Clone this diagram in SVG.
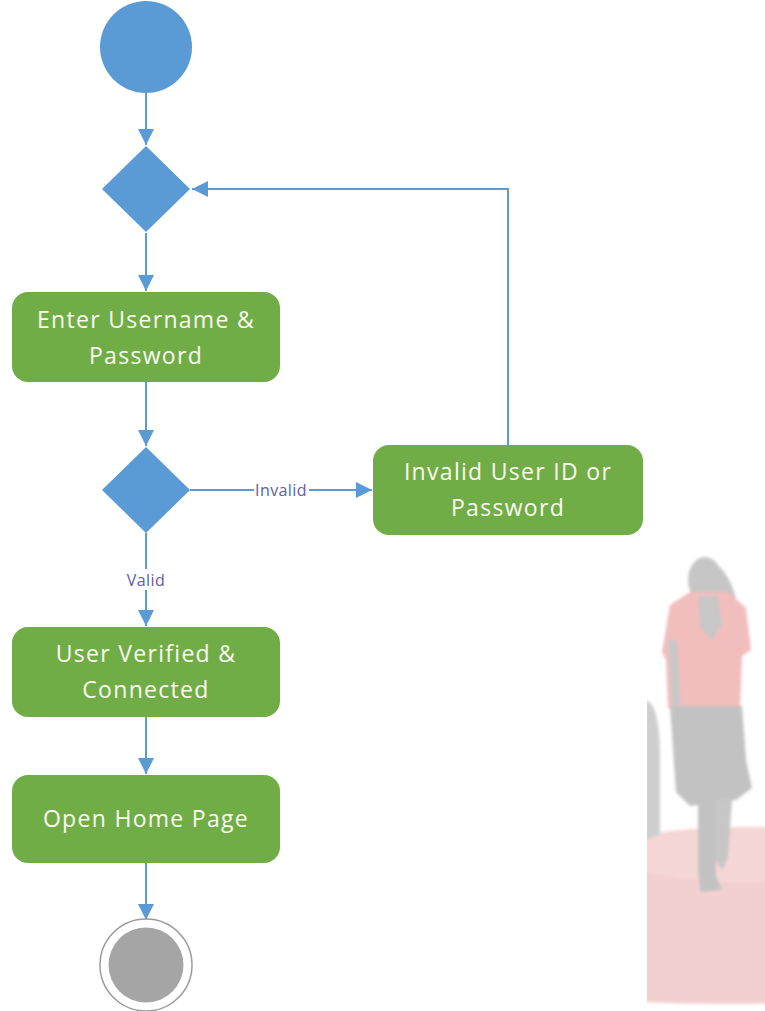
<svg xmlns="http://www.w3.org/2000/svg" width="765" height="1011" viewBox="0 0 765 1011">
  <style>
    .act { fill: #70ad47; }
    .actText { font-family: "Open Sans", Lato, "Liberation Sans", sans-serif; font-size: 23px; letter-spacing: 1.3px; fill: #fbfbf0; text-anchor: middle; }
    .dec { fill: #5b9bd5; }
    .edge { fill: none; stroke: #5b9bd5; stroke-width: 2; }
    .lbl { font-family: "Open Sans", Lato, "Liberation Sans", sans-serif; font-size: 16px; letter-spacing: 0.4px; fill: #5b5ea6; text-anchor: middle; }
  </style>
  <defs>
    <marker id="arrowV" markerWidth="18" markerHeight="16" refX="16" refY="8" orient="auto" markerUnits="userSpaceOnUse">
      <path d="M0,0 L16,8 L0,16 Z" fill="#5b9bd5"/>
    </marker>
    <clipPath id="photoClip">
      <rect x="647" y="540" width="118" height="471"/>
    </clipPath>
    <filter id="soft" x="-10%" y="-10%" width="120%" height="120%">
      <feGaussianBlur stdDeviation="1.5"/>
    </filter>
  </defs>

  <!-- faded figure standing on a red platform -->
  <g id="figure" clip-path="url(#photoClip)">
    <g filter="url(#soft)">
      <path d="M640,836 C680,828 730,826 780,828 L780,1003 C740,1005 680,1004 640,1002 Z" fill="#f3d0d0"/>
      <path d="M640,836 C680,828 730,826 780,828 L780,880 C730,885 680,880 640,870 Z" fill="#f5d6d6"/>
      <path d="M645,700 C655,702 660,720 660,760 L660,835 L645,840 Z" fill="#cfcfcf"/>
      <ellipse cx="705" cy="580" rx="17" ry="23" fill="#c6c6c6"/>
      <path d="M708,560 C728,565 742,600 740,640 L724,642 L716,600 Z" fill="#c6c6c6"/>
      <path d="M670,605 L690,592 L728,592 L746,608 L751,650 L742,656 L740,708 L668,708 L666,660 L662,652 Z" fill="#f2bdbd"/>
      <path d="M698,596 L718,596 L722,625 L712,640 L700,628 Z" fill="#c8c8c8"/>
      <path d="M668,640 L677,640 L680,705 L672,706 Z" fill="#c8c8c8"/>
      <path d="M670,706 L742,706 L746,760 L752,788 L736,800 L690,806 L676,792 Z" fill="#c2c2c2"/>
      <path d="M698,800 L716,800 L716,876 L722,890 L700,892 L698,870 Z" fill="#c2c2c2"/>
      <path d="M716,800 L732,800 L728,858 L722,870 L716,860 Z" fill="#c6c6c6"/>
    </g>
  </g>

  <!-- connectors -->
  <g id="connectors">
    <line class="edge" x1="146" y1="93" x2="146" y2="145" marker-end="url(#arrowV)"/>
    <polyline class="edge" points="508,445 508,189 192,189" marker-end="url(#arrowV)"/>
    <line class="edge" x1="146" y1="233" x2="146" y2="291" marker-end="url(#arrowV)"/>
    <line class="edge" x1="146" y1="382" x2="146" y2="446" marker-end="url(#arrowV)"/>
    <line class="edge" x1="190" y1="490" x2="372" y2="490" marker-end="url(#arrowV)"/>
    <rect x="254" y="480" width="55" height="20" fill="#ffffff"/>
    <text class="lbl" x="281" y="496">Invalid</text>
    <line class="edge" x1="146" y1="533" x2="146" y2="626" marker-end="url(#arrowV)"/>
    <rect x="122" y="569" width="48" height="21" fill="#ffffff"/>
    <text class="lbl" x="146" y="586">Valid</text>
    <line class="edge" x1="146" y1="717" x2="146" y2="774" marker-end="url(#arrowV)"/>
    <line class="edge" x1="146" y1="863" x2="146" y2="920" marker-end="url(#arrowV)"/>
  </g>

  <g id="start">
    <circle cx="146" cy="47" r="46" fill="#5b9bd5"/>
  </g>

  <g id="merge">
    <polygon class="dec" points="146,146 190,189 146,232 102,189"/>
  </g>

  <g id="enterCredentials">
    <rect class="act" x="12" y="292" width="268" height="90" rx="16"/>
    <text class="actText" x="146" y="328">Enter Username &amp;</text>
    <text class="actText" x="146" y="364">Password</text>
  </g>

  <g id="checkCredentials">
    <polygon class="dec" points="146,447 190,490 146,533 102,490"/>
  </g>

  <g id="invalidLogin">
    <rect class="act" x="373" y="445" width="270" height="90" rx="16"/>
    <text class="actText" x="508" y="480">Invalid User ID or</text>
    <text class="actText" x="508" y="516">Password</text>
  </g>

  <g id="userVerified">
    <rect class="act" x="12" y="627" width="268" height="90" rx="16"/>
    <text class="actText" x="146" y="662">User Verified &amp;</text>
    <text class="actText" x="146" y="698">Connected</text>
  </g>

  <g id="openHomePage">
    <rect class="act" x="12" y="775" width="268" height="88" rx="16"/>
    <text class="actText" x="146" y="827">Open Home Page</text>
  </g>

  <g id="end">
    <circle cx="146" cy="965" r="46" fill="#ffffff" stroke="#9a9a9a" stroke-width="1.5"/>
    <circle cx="146" cy="965" r="37.5" fill="#a5a5a5"/>
  </g>
</svg>
